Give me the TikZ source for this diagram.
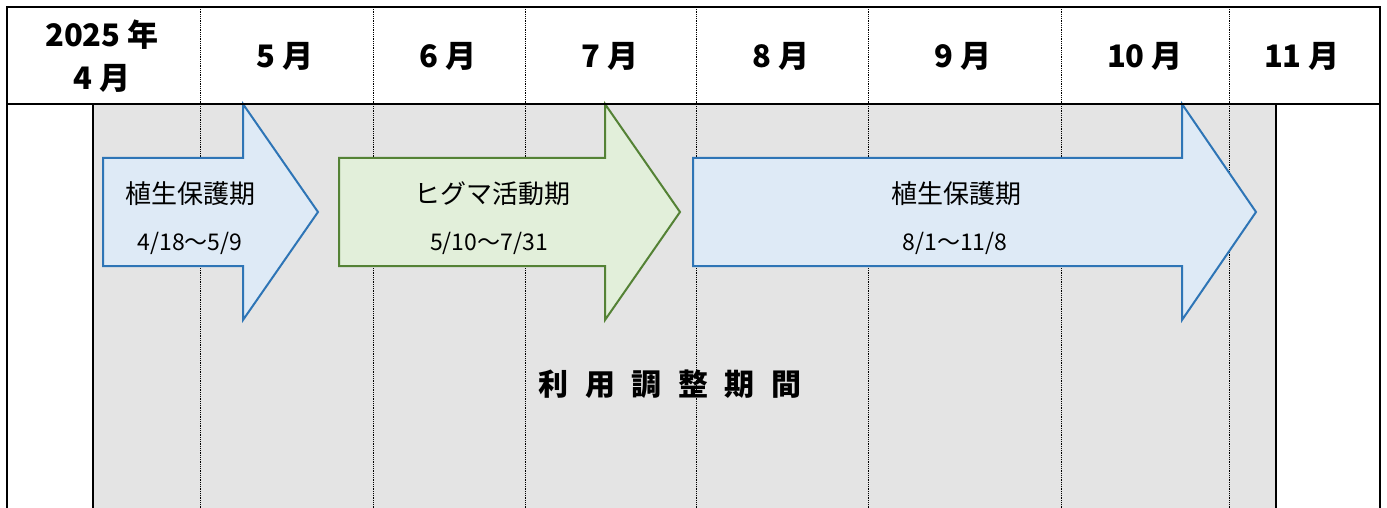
\documentclass[tikz,border=0pt]{standalone}
\usepackage{fontspec}
\setmainfont{Noto Sans CJK JP}
\usetikzlibrary{calc}
\definecolor{bandgray}{HTML}{E4E4E4}
\definecolor{vegfill}{HTML}{DEEAF6}
\definecolor{vegline}{HTML}{2E75B6}
\definecolor{bearfill}{HTML}{E2EFDA}
\definecolor{bearline}{HTML}{548235}
\def\phasearrow[#1](#2:#3:#4)% Syntax: [draw options] (left x:neck x:tip x)
{ \draw[#1] (#2,158) -- (#3,158) -- (#3,104) -- (#4,212) -- (#3,320) -- (#3,266) -- (#2,266) -- cycle; }
\tikzset{
	month/.style={font=\bfseries\fontsize{31}{43}\selectfont, align=center},
	phase/.style={font=\fontsize{26}{30}\selectfont},
	span/.style={font=\fontsize{23}{28}\selectfont},
	veg arrow/.style={line width=2pt, draw=vegline, fill=vegfill, line join=miter},
	bear arrow/.style={line width=2pt, draw=bearline, fill=bearfill, line join=miter},
}

\begin{document}
\begin{tikzpicture}[x=1pt,y=-1pt]
	\useasboundingbox (0,0) rectangle (1387,508);
	\fill[bandgray] (93,104) rectangle (1276,508);
	\foreach \x in {200.5,373,525,696,868,1061,1229}
		\draw[densely dotted, line width=.8pt] (\x,7) -- (\x,508);
	% phases
	\phasearrow[veg arrow](103:243:318);
	\phasearrow[bear arrow](339:605:680);
	\phasearrow[veg arrow](693:1182:1256);
	\node[phase] (veg1) at (190,194) {植生保護期};
	\node[span] (veg1d) at (190,243) {4/18～5/9};
	\node[phase] (bear) at (492,194) {ヒグマ活動期};
	\node[span] (beard) at (489,243) {5/10～7/31};
	\node[phase] (veg2) at (956,194) {植生保護期};
	\node[span] (veg2d) at (955,243) {8/1～11/8};
	\node[font=\bfseries\fontsize{30}{34}\selectfont] (use) at (670,384)
		{利\hspace{.55em}用\hspace{.55em}調\hspace{.55em}整\hspace{.55em}期\hspace{.55em}間};
	% frame
	\draw[line width=1.5pt] (7,508) -- (7,7) -- (1380,7) -- (1380,508);
	\draw[line width=1.5pt] (7,104) -- (1380,104);
	\draw[line width=1.5pt] (93,104) -- (93,508);
	\draw[line width=1.5pt] (1276,104) -- (1276,508);
	% header
	\node[month] (apr) at (102,56) {2025 年\\4 月};
	\node[month] (may) at (285,56) {5 月};
	\node[month] (jun) at (448,56) {6 月};
	\node[month] (jul) at (610,56) {7 月};
	\node[month] (aug) at (781,56) {8 月};
	\node[month] (sep) at (963,56) {9 月};
	\node[month] (oct) at (1145,56) {10 月};
	\node[month] (nov) at (1302,56) {11 月};
\end{tikzpicture}
\end{document}
